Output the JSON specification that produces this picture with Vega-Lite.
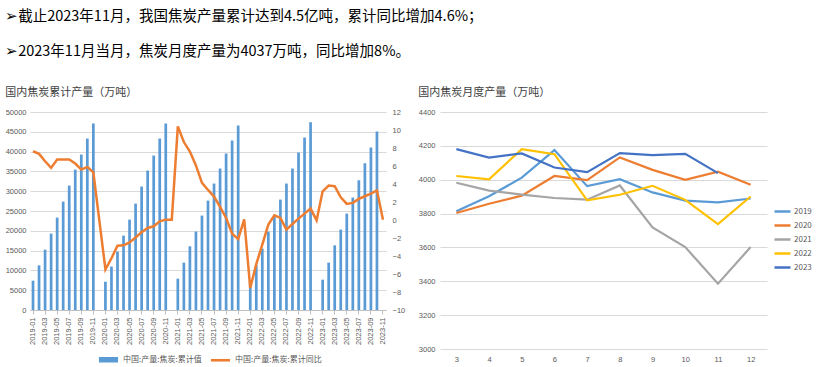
{
  "$schema": "https://vega.github.io/schema/vega-lite/v6.json",
  "background": "white",
  "padding": {"left": 5, "top": 8, "right": 0, "bottom": 0},
  "title": {
    "text": ["➢截止2023年11月，我国焦炭产量累计达到4.5亿吨，累计同比增加4.6%；", "➢2023年11月当月，焦炭月度产量为4037万吨，同比增加8%。"],
    "anchor": "start", "frame": "bounds", "fontSize": 14.5, "lineHeight": 35,
    "font": "Noto Sans CJK SC", "fontWeight": "normal", "color": "#000000", "offset": 28
  },
  "config": {
    "view": {"stroke": null},
    "font": "Noto Sans CJK SC",
    "axis": {"labelFont": "Liberation Sans", "labelFontSize": 7.5, "labelColor": "#595959", "title": null, "gridColor": "#d9d9d9", "domainColor": "#bfbfbf", "tickColor": "#bfbfbf"},
    "legend": {"labelFont": "Noto Sans CJK SC", "labelColor": "#595959", "labelFontSize": 8}
  },
  "spacing": 13,
  "resolve": {"scale": {"color": "independent"}, "legend": {"color": "independent"}},
  "hconcat": [
    {
      "width": 356, "height": 198,
      "title": {"text": "国内焦炭累计产量（万吨）", "anchor": "start", "frame": "bounds", "fontSize": 11, "fontWeight": "normal", "color": "#404040", "offset": 10},
      "data": {"values": [
        {"d":"2019-01","c":7400,"r":7.64},{"d":"2019-02","c":11270,"r":7.35},{"d":"2019-03","c":15240,"r":6.53},{"d":"2019-04","c":19290,"r":5.79},{"d":"2019-05","c":23330,"r":6.72},{"d":"2019-06","c":27370,"r":6.72},{"d":"2019-07","c":31420,"r":6.72},{"d":"2019-08","c":35460,"r":6.27},{"d":"2019-09","c":39260,"r":5.6},{"d":"2019-10","c":43300,"r":5.9},{"d":"2019-11","c":47100,"r":5.3},{"d":"2019-12","c":null,"r":null},
        {"d":"2020-01","c":7150,"r":-5.5},{"d":"2020-02","c":10970,"r":-4.25},{"d":"2020-03","c":14740,"r":-2.85},{"d":"2020-04","c":18780,"r":-2.81},{"d":"2020-05","c":22830,"r":-2.5},{"d":"2020-06","c":26870,"r":-1.95},{"d":"2020-07","c":31170,"r":-1.37},{"d":"2020-08","c":35210,"r":-0.88},{"d":"2020-09","c":39000,"r":-0.7},{"d":"2020-10","c":43300,"r":-0.15},{"d":"2020-11","c":47100,"r":0.04},{"d":"2020-12","c":null,"r":0.04},
        {"d":"2021-01","c":7910,"r":10.4},{"d":"2021-02","c":11960,"r":8.66},{"d":"2021-03","c":16080,"r":7.6},{"d":"2021-04","c":19800,"r":6.06},{"d":"2021-05","c":23840,"r":4.12},{"d":"2021-06","c":27630,"r":3.34},{"d":"2021-07","c":31930,"r":2.6},{"d":"2021-08","c":35720,"r":1.45},{"d":"2021-09","c":39510,"r":0.23},{"d":"2021-10","c":42800,"r":-1.53},{"d":"2021-11","c":46590,"r":-2.12},{"d":"2021-12","c":null,"r":0.08},
        {"d":"2022-01","c":7300,"r":-7.56},{"d":"2022-02","c":11300,"r":-4.9},{"d":"2022-03","c":15490,"r":-2.74},{"d":"2022-04","c":19790,"r":-0.51},{"d":"2022-05","c":23670,"r":0.52},{"d":"2022-06","c":27880,"r":0.23},{"d":"2022-07","c":31930,"r":-1.07},{"d":"2022-08","c":35720,"r":-0.44},{"d":"2022-09","c":39760,"r":0.15},{"d":"2022-10","c":43550,"r":0.71},{"d":"2022-11","c":47420,"r":1.27},{"d":"2022-12","c":null,"r":-0.03},
        {"d":"2023-01","c":7660,"r":3.19},{"d":"2023-02","c":11960,"r":3.82},{"d":"2023-03","c":16330,"r":3.75},{"d":"2023-04","c":20300,"r":2.53},{"d":"2023-05","c":24340,"r":1.79},{"d":"2023-06","c":28390,"r":1.9},{"d":"2023-07","c":32760,"r":2.34},{"d":"2023-08","c":37060,"r":2.64},{"d":"2023-09","c":41030,"r":2.93},{"d":"2023-10","c":45070,"r":3.3},{"d":"2023-11","c":null,"r":0.04}
      ]},
      "encoding": {
        "x": {"field": "d", "type": "ordinal",
          "scale": {"paddingInner": 0.55, "paddingOuter": 0.275,
            "domain": ["2019-01","2019-02","2019-03","2019-04","2019-05","2019-06","2019-07","2019-08","2019-09","2019-10","2019-11","2019-12","2020-01","2020-02","2020-03","2020-04","2020-05","2020-06","2020-07","2020-08","2020-09","2020-10","2020-11","2020-12","2021-01","2021-02","2021-03","2021-04","2021-05","2021-06","2021-07","2021-08","2021-09","2021-10","2021-11","2021-12","2022-01","2022-02","2022-03","2022-04","2022-05","2022-06","2022-07","2022-08","2022-09","2022-10","2022-11","2022-12","2023-01","2023-02","2023-03","2023-04","2023-05","2023-06","2023-07","2023-08","2023-09","2023-10","2023-11"]},
          "axis": {"values": ["2019-01","2019-03","2019-05","2019-07","2019-09","2019-11","2020-01","2020-03","2020-05","2020-07","2020-09","2020-11","2021-01","2021-03","2021-05","2021-07","2021-09","2021-11","2022-01","2022-03","2022-05","2022-07","2022-09","2022-11","2023-01","2023-03","2023-05","2023-07","2023-09","2023-11"],
            "labelAngle": -90, "labelOverlap": false, "labelPadding": 3, "tickSize": 4}}
      },
      "layer": [
        {
          "mark": {"type": "bar"},
          "encoding": {
            "y": {"field": "c", "type": "quantitative", "scale": {"domain": [0, 50000], "nice": false},
              "axis": {"values": [0,5000,10000,15000,20000,25000,30000,35000,40000,45000,50000], "format": "d", "grid": true, "domain": false, "ticks": false, "labelPadding": 4}},
            "color": {"datum": "中国:产量:焦炭:累计值", "type": "nominal",
              "scale": {"domain": ["中国:产量:焦炭:累计值", "中国:产量:焦炭:累计同比"], "range": ["#5b9bd5", "#ed7d31"]},
              "legend": {"orient": "none", "direction": "horizontal", "legendX": 72, "legendY": 241, "title": null,
                "symbolType": "M-1.6,-0.35H1.6V0.35H-1.6Z", "symbolSize": 121, "labelOffset": 8, "columnPadding": 6,
                "encode": {"symbols": {"update": {"shape": {"signal": "datum.value === '中国:产量:焦炭:累计值' ? 'M-1.6,-0.35H1.6V0.35H-1.6Z' : 'M-1.6,-0.1H1.6V0.1H-1.6Z'"}}}}}}
          }
        },
        {
          "mark": {"type": "line", "strokeWidth": 2.5, "invalid": "filter"},
          "encoding": {
            "y": {"field": "r", "type": "quantitative", "scale": {"domain": [-10, 12], "nice": false},
              "axis": {"orient": "right", "values": [-10,-8,-6,-4,-2,0,2,4,6,8,10,12], "format": "d", "grid": false, "domain": false, "ticks": false, "labelPadding": 6}},
            "color": {"datum": "中国:产量:焦炭:累计同比", "type": "nominal"}
          }
        }
      ],
      "resolve": {"scale": {"y": "independent"}}
    },
    {
      "width": 327, "height": 237,
      "title": {"text": "国内焦炭月度产量（万吨）", "anchor": "start", "frame": "bounds", "fontSize": 11, "fontWeight": "normal", "color": "#404040", "offset": 10},
      "data": {"values": [
        {"m":3,"y":"2019","v":3813},{"m":4,"y":"2019","v":3902},{"m":5,"y":"2019","v":4012},{"m":6,"y":"2019","v":4175},{"m":7,"y":"2019","v":3962},{"m":8,"y":"2019","v":4003},{"m":9,"y":"2019","v":3925},{"m":10,"y":"2019","v":3877},{"m":11,"y":"2019","v":3866},{"m":12,"y":"2019","v":3889},
        {"m":3,"y":"2020","v":3803},{"m":4,"y":"2020","v":3858},{"m":5,"y":"2020","v":3906},{"m":6,"y":"2020","v":4022},{"m":7,"y":"2020","v":3998},{"m":8,"y":"2020","v":4132},{"m":9,"y":"2020","v":4058},{"m":10,"y":"2020","v":3999},{"m":11,"y":"2020","v":4047},{"m":12,"y":"2020","v":3970},
        {"m":3,"y":"2021","v":3982},{"m":4,"y":"2021","v":3936},{"m":5,"y":"2021","v":3912},{"m":6,"y":"2021","v":3892},{"m":7,"y":"2021","v":3882},{"m":8,"y":"2021","v":3966},{"m":9,"y":"2021","v":3718},{"m":10,"y":"2021","v":3602},{"m":11,"y":"2021","v":3386},{"m":12,"y":"2021","v":3602},
        {"m":3,"y":"2022","v":4022},{"m":4,"y":"2022","v":4002},{"m":5,"y":"2022","v":4181},{"m":6,"y":"2022","v":4151},{"m":7,"y":"2022","v":3878},{"m":8,"y":"2022","v":3911},{"m":9,"y":"2022","v":3964},{"m":10,"y":"2022","v":3881},{"m":11,"y":"2022","v":3738},{"m":12,"y":"2022","v":3901},
        {"m":3,"y":"2023","v":4181},{"m":4,"y":"2023","v":4131},{"m":5,"y":"2023","v":4155},{"m":6,"y":"2023","v":4072},{"m":7,"y":"2023","v":4045},{"m":8,"y":"2023","v":4157},{"m":9,"y":"2023","v":4145},{"m":10,"y":"2023","v":4153},{"m":11,"y":"2023","v":4039}
      ]},
      "mark": {"type": "line", "strokeWidth": 2.2},
      "encoding": {
        "x": {"field": "m", "type": "ordinal", "scale": {"type": "point", "padding": 0.5},
          "axis": {"labelAngle": 0, "domain": false, "ticks": false, "labelPadding": 6}},
        "y": {"field": "v", "type": "quantitative", "scale": {"domain": [3000, 4400], "nice": false},
          "axis": {"values": [3000,3200,3400,3600,3800,4000,4200,4400], "format": "d", "grid": true, "domain": false, "ticks": false, "labelPadding": 5}},
        "color": {"field": "y", "type": "nominal",
          "scale": {"domain": ["2019","2020","2021","2022","2023"], "range": ["#5b9bd5","#ed7d31","#a5a5a5","#ffc000","#4472c4"]},
          "legend": {"orient": "none", "legendX": 336, "legendY": 93, "title": null,
            "symbolType": "M-1.6,0H1.6", "symbolSize": 100, "symbolStrokeWidth": 2.5, "labelOffset": 5, "rowPadding": 2}}
      }
    }
  ]
}
